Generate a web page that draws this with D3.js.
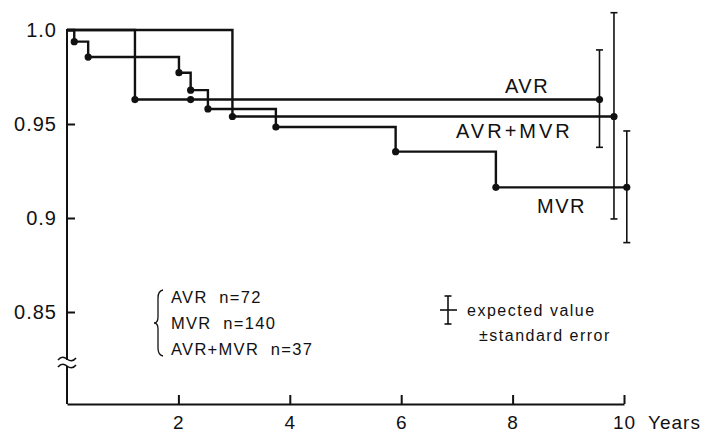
<!DOCTYPE html>
<html>
<head>
<meta charset="utf-8">
<script src="https://cdn.jsdelivr.net/npm/d3@7"></script>
<style>
  body { margin: 0; background: #fff; }
  text { font-family: "Liberation Sans", Arial, sans-serif; fill: #111; }
</style>
</head>
<body>
<div id="chart"></div>
<script>
// survival curves (years, cumulative survival)
var avrTimes = [0, 1.22, 2.22, 9.56];
var avrValues = [1.0, 0.963, 0.963, 0.963];
var mvrTimes = [0, 0.13, 0.38, 2.01, 2.22, 2.53, 3.75, 5.90, 7.70, 10.05];
var mvrValues = [1.0, 0.9938, 0.9856, 0.9773, 0.968, 0.958, 0.9484, 0.9353, 0.9163, 0.9163];
var bothTimes = [0, 2.97, 9.82];
var bothValues = [1.0, 0.954, 0.954];

// end point error bars: [time, low, high]
var errTimes = [9.56, 9.82, 10.05];
var errLow = [0.9376, 0.8995, 0.8869];
var errHigh = [0.9894, 1.0092, 0.9463];

var yTicks = [0.85, 0.9, 0.95, 1.0];
var yTickLabels = ["0.85", "0.9", "0.95", "1.0"];
var xTicks = [2, 4, 6, 8, 10];
var legendLines = ["AVR  n=72", "MVR  n=140", "AVR+MVR  n=37"];

var width = 707, height = 434;
var baseY = 404;

var svg = d3.select("#chart")
  .append("svg")
    .attr("width", width)
    .attr("height", height);

var x = d3.scaleLinear().domain([0, 10]).range([67, 624]);
var y = d3.scaleLinear().domain([0.85, 1.0]).range([312, 30]);

// Y axis (ticks point inward, domain drawn by hand because of the break)
var yAxis = svg.append("g")
  .attr("transform", "translate(" + x(0) + ",0)")
  .call(d3.axisLeft(y).tickValues(yTicks).tickSize(-8).tickPadding(10)
    .tickFormat(function(d, i) { return yTickLabels[i]; }));
yAxis.select(".domain").remove();
yAxis.selectAll("line").attr("stroke", "#111").attr("stroke-width", 2);
yAxis.selectAll("text")
  .style("font-size", "20px")
  .style("letter-spacing", "1px")
  .attr("fill", "#111");

// vertical axis line with break
svg.append("line")
  .attr("x1", x(0)).attr("x2", x(0))
  .attr("y1", y(1.0) - 1).attr("y2", 360)
  .attr("stroke", "#111").attr("stroke-width", 2);
svg.append("line")
  .attr("x1", x(0)).attr("x2", x(0))
  .attr("y1", 366).attr("y2", baseY)
  .attr("stroke", "#111").attr("stroke-width", 2);
[359, 366].forEach(function(by) {
  svg.append("path")
    .attr("d", "M" + (x(0) - 9) + "," + (by + 1) + " q4,-5 9,-1 q5,4 9,-1")
    .attr("fill", "none")
    .attr("stroke", "#111")
    .attr("stroke-width", 1.6);
});

// X axis
var xAxis = svg.append("g")
  .attr("transform", "translate(0," + baseY + ")")
  .call(d3.axisBottom(x).tickValues(xTicks).tickSize(-9).tickSizeOuter(0).tickPadding(12)
    .tickFormat(d3.format("d")));
xAxis.select(".domain").attr("stroke", "#111").attr("stroke-width", 2);
xAxis.selectAll("line").attr("stroke", "#111").attr("stroke-width", 2);
xAxis.selectAll("text")
  .style("font-size", "19px")
  .style("letter-spacing", "1px")
  .attr("fill", "#111");

svg.append("text")
  .attr("x", x(10) + 24)
  .attr("y", 429)
  .text("Years")
  .style("font-size", "19px")
  .style("letter-spacing", "1px");

// step curves
var stepLine = d3.line()
  .x(function(d) { return x(d.t); })
  .y(function(d) { return y(d.v); })
  .curve(d3.curveStepAfter);

function pairs(ts, vs) {
  return ts.map(function(t, i) { return { t: t, v: vs[i] }; });
}

var curves = [pairs(avrTimes, avrValues), pairs(mvrTimes, mvrValues), pairs(bothTimes, bothValues)];

curves.forEach(function(data) {
  svg.append("path")
    .datum(data)
    .attr("fill", "none")
    .attr("stroke", "#111")
    .attr("stroke-width", 2.4)
    .attr("d", stepLine);

  svg.selectAll(null)
    .data(data.slice(1))
    .enter()
    .append("circle")
      .attr("cx", function(d) { return x(d.t); })
      .attr("cy", function(d) { return y(d.v); })
      .attr("r", 3.6)
      .attr("fill", "#111");
});

// error bars
errTimes.forEach(function(t, i) {
  var g = svg.append("g").attr("stroke", "#111").attr("stroke-width", 1.6);
  g.append("line")
    .attr("x1", x(t)).attr("x2", x(t))
    .attr("y1", y(errLow[i])).attr("y2", y(errHigh[i]));
  g.append("line")
    .attr("x1", x(t) - 3.5).attr("x2", x(t) + 3.5)
    .attr("y1", y(errLow[i])).attr("y2", y(errLow[i]));
  g.append("line")
    .attr("x1", x(t) - 3.5).attr("x2", x(t) + 3.5)
    .attr("y1", y(errHigh[i])).attr("y2", y(errHigh[i]));
});

// curve labels
svg.append("text").attr("x", 505).attr("y", 93).text("AVR")
  .style("font-size", "20px").style("letter-spacing", "1.5px");
svg.append("text").attr("x", 456).attr("y", 138).text("AVR+MVR")
  .style("font-size", "20px").style("letter-spacing", "3px");
svg.append("text").attr("x", 537).attr("y", 213).text("MVR")
  .style("font-size", "20px").style("letter-spacing", "1.5px");

// n legend with brace
svg.append("path")
  .attr("d", "M163,290 Q158,291 158,298 L158,317 Q158,323 154,323 Q158,323 158,329 L158,348 Q158,355 163,356")
  .attr("fill", "none")
  .attr("stroke", "#111")
  .attr("stroke-width", 1.3);

legendLines.forEach(function(s, i) {
  svg.append("text")
    .attr("x", 171)
    .attr("y", 303 + i * 26)
    .text(s)
    .style("font-size", "16.5px")
    .style("letter-spacing", "1.3px")
    .style("white-space", "pre");
});

// error bar key
var key = svg.append("g").attr("stroke", "#111").attr("stroke-width", 1.6);
key.append("line").attr("x1", 448).attr("x2", 448).attr("y1", 296).attr("y2", 324);
key.append("line").attr("x1", 444.5).attr("x2", 451.5).attr("y1", 296).attr("y2", 296);
key.append("line").attr("x1", 444.5).attr("x2", 451.5).attr("y1", 324).attr("y2", 324);
key.append("line").attr("x1", 440).attr("x2", 457).attr("y1", 310).attr("y2", 310);

svg.append("text").attr("x", 467).attr("y", 316).text("expected value")
  .style("font-size", "16px").style("letter-spacing", "1.5px");
svg.append("text").attr("x", 479).attr("y", 341).text("\u00b1standard error")
  .style("font-size", "16px").style("letter-spacing", "1.5px");
</script>
</body>
</html>
